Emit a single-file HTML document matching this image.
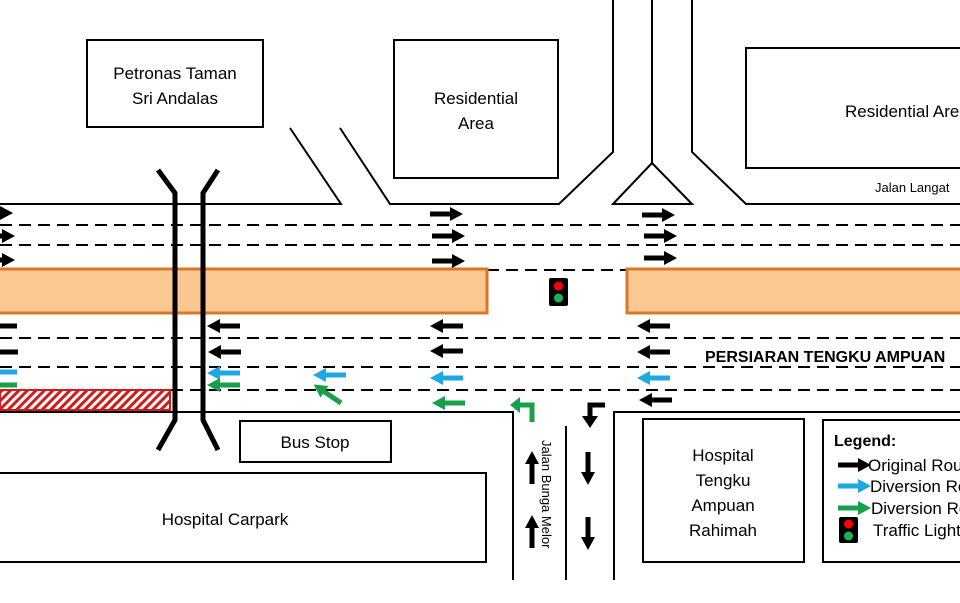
<!DOCTYPE html>
<html><head><style>body{margin:0;background:#fff}svg{display:block}text{font-family:"Liberation Sans",sans-serif}</style></head><body>
<svg width="960" height="603" viewBox="0 0 960 603" xmlns="http://www.w3.org/2000/svg">
<defs>
<path id="ar" d="M0,-2.5H20V-7L33,0L20,7V2.5H0Z"/>
<pattern id="hatch" width="6" height="6" patternUnits="userSpaceOnUse" patternTransform="rotate(45)"><rect width="6" height="6" fill="#fff"/><rect width="3" height="6" fill="#d01c1c"/></pattern>
</defs>
<g fill="none" stroke="#000" stroke-width="2">
<path d="M0,204H341L290,128M340,128L390,204H559L613,152V0M652,0V163M613,204L652,163L692,204ZM692,0V152L746,204H960"/>
<path d="M0,412H513V580M614,580V412H960M566,426V580"/>
</g>
<g stroke="#000" stroke-width="2" stroke-dasharray="12,7">
<path d="M0,225H960M0,245H960M487,270H627M0,338H960M0,367H960M0,390H960"/>
</g>
<rect x="-5" y="269" width="492" height="44" fill="#fcc891" stroke="#d9772b" stroke-width="3"/>
<rect x="627" y="269" width="340" height="44" fill="#fcc891" stroke="#d9772b" stroke-width="3"/>
<rect x="0" y="390" width="170" height="20" fill="url(#hatch)" stroke="#d01c1c" stroke-width="2"/>
<g fill="none" stroke="#000" stroke-width="5">
<path d="M158,170L175,193V420L158,450M218,170L203,193V420L218,450"/>
</g>
<g fill="#000">
<use href="#ar" transform="translate(-20,213)"/>
<use href="#ar" transform="translate(-18,236)"/>
<use href="#ar" transform="translate(-18,260)"/>
<use href="#ar" transform="translate(430,214)"/>
<use href="#ar" transform="translate(432,236)"/>
<use href="#ar" transform="translate(432,261)"/>
<use href="#ar" transform="translate(642,215)"/>
<use href="#ar" transform="translate(644,236)"/>
<use href="#ar" transform="translate(644,258)"/>
<use href="#ar" transform="translate(17,326) rotate(180)"/>
<use href="#ar" transform="translate(18,352) rotate(180)"/>
<use href="#ar" transform="translate(240,326) rotate(180)"/>
<use href="#ar" transform="translate(241,352) rotate(180)"/>
<use href="#ar" transform="translate(463,326) rotate(180)"/>
<use href="#ar" transform="translate(463,351) rotate(180)"/>
<use href="#ar" transform="translate(670,326) rotate(180)"/>
<use href="#ar" transform="translate(670,352) rotate(180)"/>
<use href="#ar" transform="translate(672,400) rotate(180)"/>
<use href="#ar" transform="translate(532,484) rotate(-90)"/>
<use href="#ar" transform="translate(532,548) rotate(-90)"/>
<use href="#ar" transform="translate(588,452) rotate(90)"/>
<use href="#ar" transform="translate(588,517) rotate(90)"/>
</g>
<g fill="#1ea7e1">
<use href="#ar" transform="translate(17,372) rotate(180)"/>
<use href="#ar" transform="translate(240,373) rotate(180)"/>
<use href="#ar" transform="translate(346,375) rotate(180)"/>
<use href="#ar" transform="translate(463,378) rotate(180)"/>
<use href="#ar" transform="translate(670,378) rotate(180)"/>
</g>
<g fill="#16a04a">
<use href="#ar" transform="translate(17,385) rotate(180)"/>
<use href="#ar" transform="translate(240,385) rotate(180)"/>
<use href="#ar" transform="translate(465,403) rotate(180)"/>
<use href="#ar" transform="translate(341,403) rotate(-146)"/>
</g>
<path d="M532,422V405H519" fill="none" stroke="#16a04a" stroke-width="5"/>
<polygon points="510,405 520,397 520,413" fill="#16a04a"/>
<path d="M605,405H590V417" fill="none" stroke="#000" stroke-width="5"/>
<polygon points="582,416 598,416 590,428" fill="#000"/>
<rect x="549" y="278" width="19" height="28" rx="2" fill="#000"/>
<circle cx="558.5" cy="286" r="4.5" fill="#f00"/><circle cx="558.5" cy="298" r="4.5" fill="#1eb05a"/>
<g fill="#fff" stroke="#000" stroke-width="2">
<rect x="87" y="40" width="176" height="87"/>
<rect x="394" y="40" width="164" height="138"/>
<rect x="746" y="48" width="230" height="120"/>
<rect x="240" y="421" width="151" height="41"/>
<rect x="-5" y="473" width="491" height="89"/>
<rect x="643" y="419" width="161" height="143"/>
<rect x="823" y="420" width="150" height="142"/>
</g>
<use href="#ar" transform="translate(838,465)" fill="#000"/>
<use href="#ar" transform="translate(838,486)" fill="#1ea7e1"/>
<use href="#ar" transform="translate(838,508)" fill="#16a04a"/>
<g font-size="17" text-anchor="middle" fill="#000">
<text x="175" y="79">Petronas Taman</text><text x="175" y="104">Sri Andalas</text>
<text x="476" y="104">Residential</text><text x="476" y="129">Area</text>
<text x="845" y="117" text-anchor="start">Residential Area</text>
<text x="315" y="448">Bus Stop</text>
<text x="225" y="525">Hospital Carpark</text>
<text x="723" y="461">Hospital</text><text x="723" y="486">Tengku</text><text x="723" y="511">Ampuan</text><text x="723" y="536">Rahimah</text>
</g>
<text x="875" y="192" font-size="13">Jalan Langat</text>
<text x="705" y="362" font-size="16" font-weight="bold">PERSIARAN TENGKU AMPUAN</text>
<text transform="translate(542,440) rotate(90)" font-size="13">Jalan Bunga Melor</text>
<text x="834" y="446" font-size="16" font-weight="bold">Legend:</text>
<rect x="839" y="517" width="19" height="26" rx="2" fill="#000"/>
<circle cx="848.5" cy="524" r="4.5" fill="#f00"/><circle cx="848.5" cy="536" r="4.5" fill="#1eb05a"/>
<g font-size="17" fill="#000">
<text x="868" y="471">Original Route</text>
<text x="870" y="492">Diversion Route</text>
<text x="871" y="514">Diversion Route</text>
<text x="873" y="536">Traffic Light</text>
</g>
</svg>
</body></html>
